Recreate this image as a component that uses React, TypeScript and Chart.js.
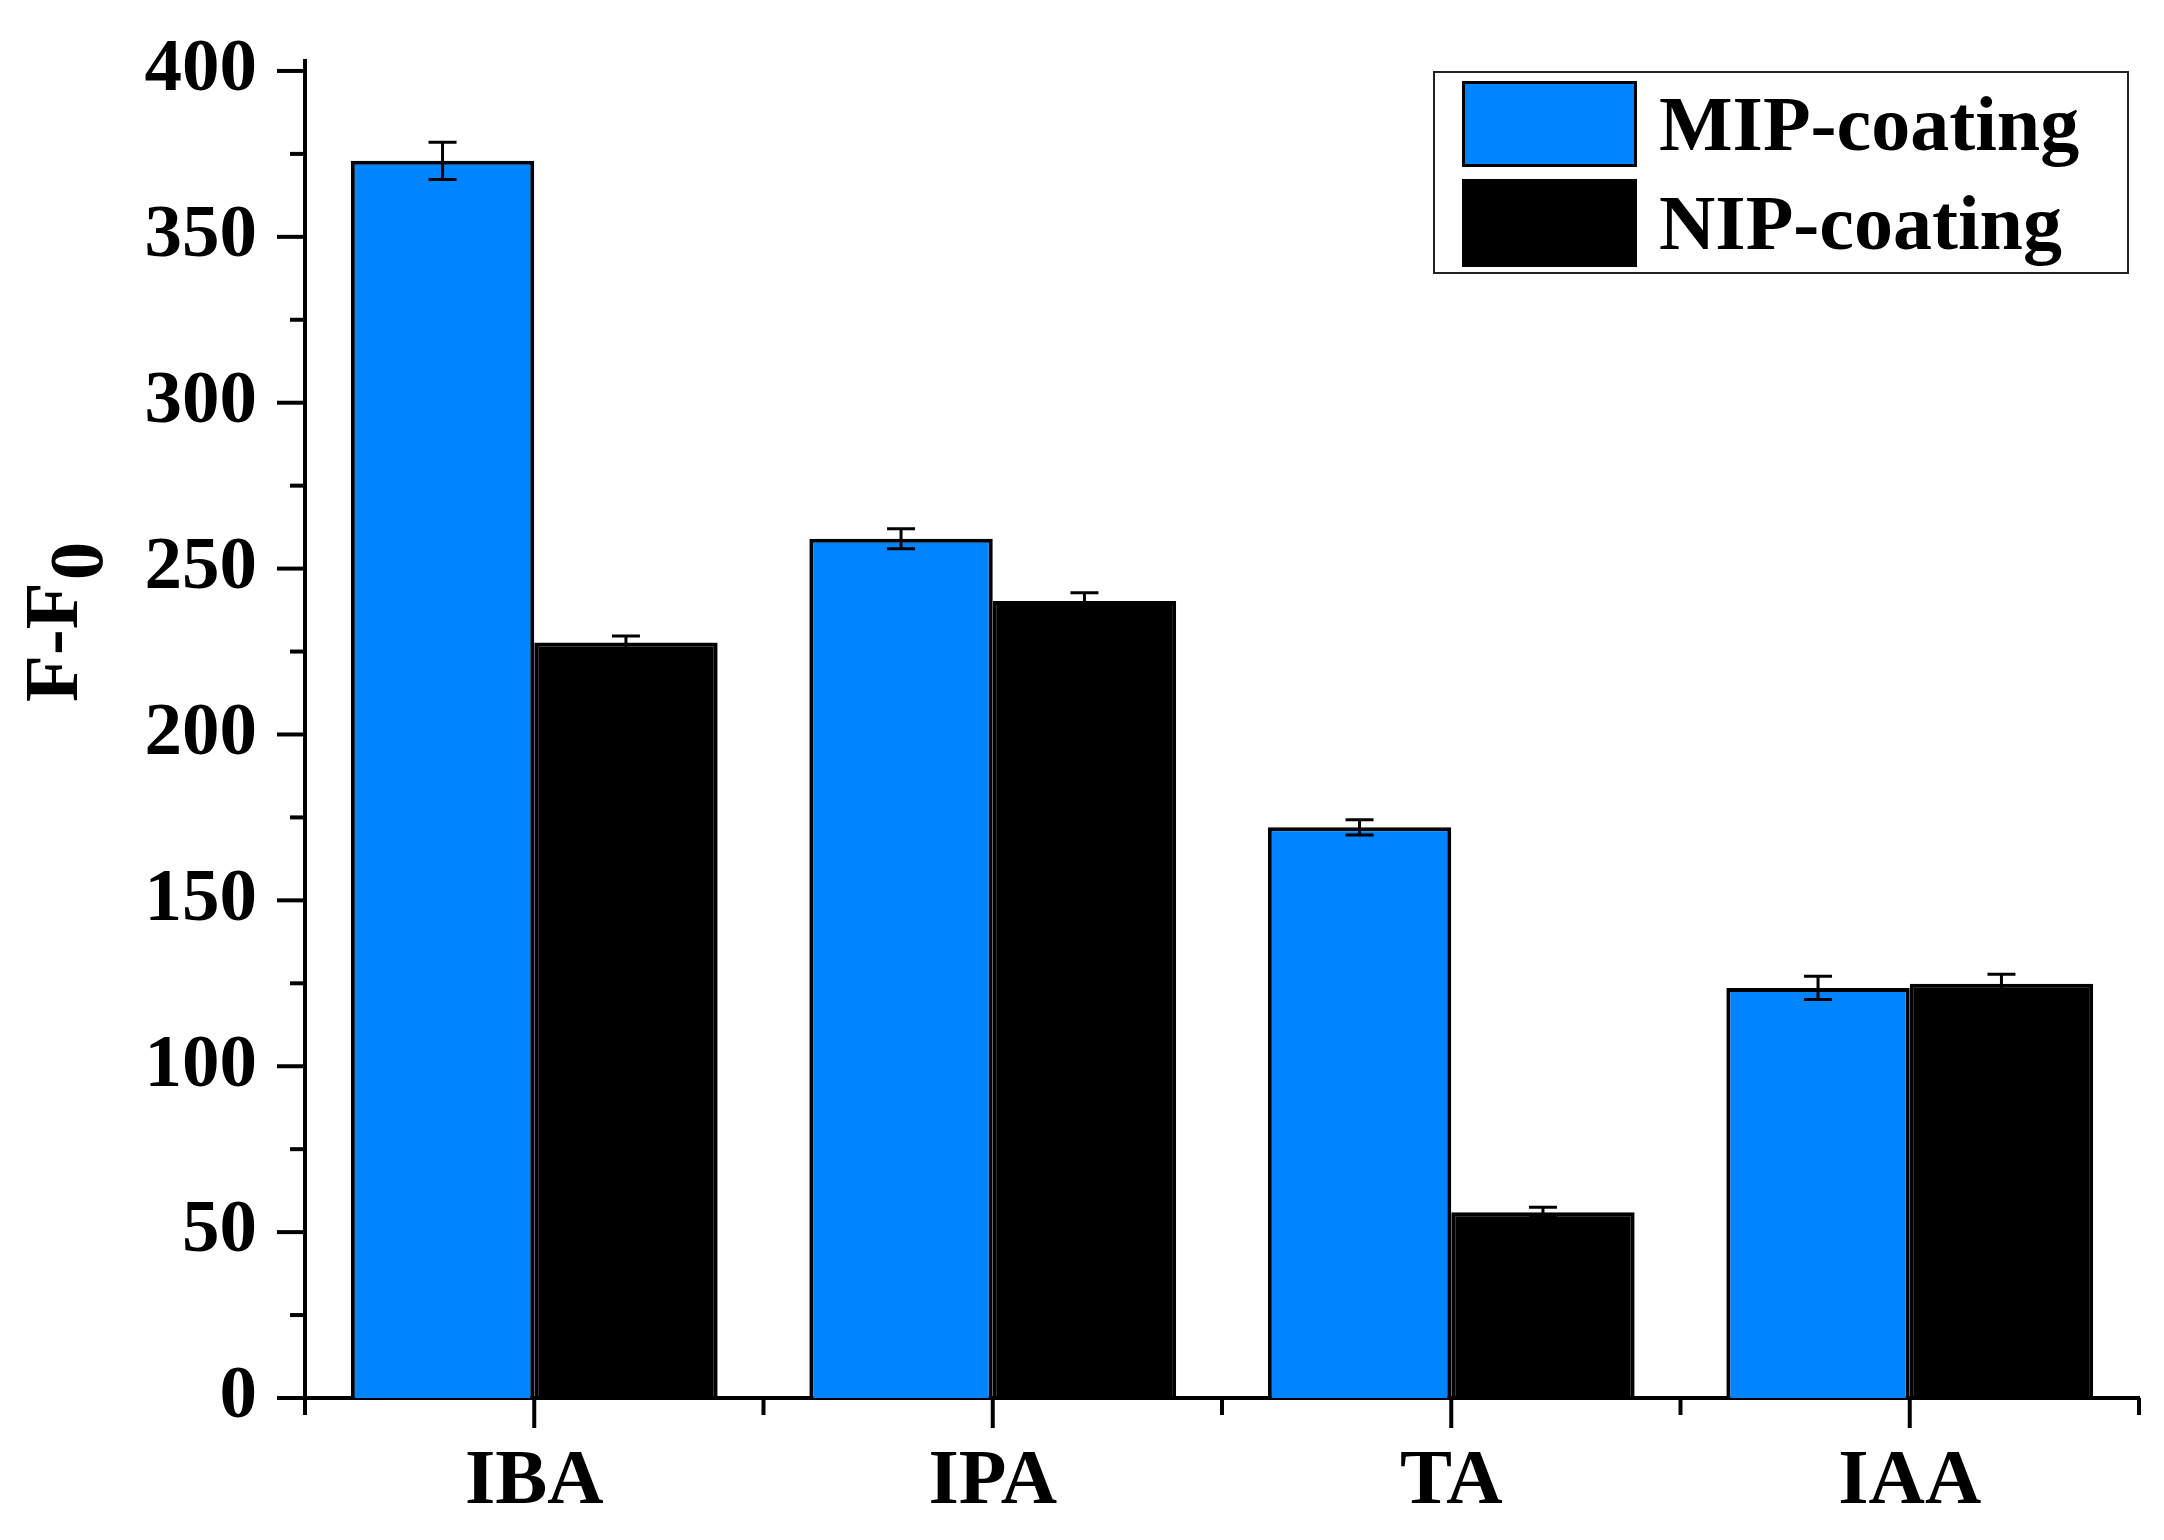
import React, { useEffect, useRef } from 'react';
import { Chart, registerables } from 'chart.js';

Chart.register(...registerables);

const categories = ['IBA', 'IPA', 'TA', 'IAA'];
const seriesNames = ['MIP-coating', 'NIP-coating'];
const seriesColors = ['#0084FF', '#000000'];
const mipValues = [372.9, 259.0, 172.0, 123.6];
const nipValues = [227.7, 240.2, 56.0, 124.9];
const mipErrors = [5.6, 3.0, 2.3, 3.5];
const nipErrors = [2.0, 2.5, 1.5, 2.8];
const yMajorTicks = [0, 50, 100, 150, 200, 250, 300, 350, 400];
const yMinorTicks = [25, 75, 125, 175, 225, 275, 325, 375];
const yTitleMain = 'F-F';
const yTitleSub = '0';

const FONT = '"Liberation Serif", "Times New Roman", serif';
const errorSets = [mipErrors, nipErrors];

const errorBarPlugin = {
  id: 'errorBars',
  afterDatasetsDraw(chart: any) {
    const ctx = chart.ctx;
    const yScale = chart.scales.y;
    ctx.save();
    ctx.strokeStyle = '#000';
    ctx.lineWidth = 3;
    chart.data.datasets.forEach((ds: any, di: number) => {
      const meta = chart.getDatasetMeta(di);
      meta.data.forEach((bar: any, i: number) => {
        const v = ds.data[i];
        const e = errorSets[di][i];
        const yTop = yScale.getPixelForValue(v + e);
        const yBot = yScale.getPixelForValue(v - e);
        const x = bar.x;
        const cap = 14;
        ctx.beginPath();
        ctx.moveTo(x, yTop);
        ctx.lineTo(x, yBot);
        ctx.moveTo(x - cap, yTop);
        ctx.lineTo(x + cap, yTop);
        ctx.moveTo(x - cap, yBot);
        ctx.lineTo(x + cap, yBot);
        ctx.stroke();
      });
    });
    ctx.restore();
  },
};

const axisDecorPlugin = {
  id: 'axisDecor',
  afterDraw(chart: any) {
    const ctx = chart.ctx;
    const xs = chart.scales.x;
    const ys = chart.scales.y;
    const area = chart.chartArea;
    ctx.save();
    ctx.strokeStyle = '#000';
    ctx.lineWidth = 4;
    ctx.lineCap = 'butt';
    yMajorTicks.forEach((v) => {
      const y = ys.getPixelForValue(v);
      ctx.beginPath();
      ctx.moveTo(area.left - 28, y);
      ctx.lineTo(area.left, y);
      ctx.stroke();
    });
    yMinorTicks.forEach((v) => {
      const y = ys.getPixelForValue(v);
      ctx.beginPath();
      ctx.moveTo(area.left - 15, y);
      ctx.lineTo(area.left, y);
      ctx.stroke();
    });
    categories.forEach((_, i) => {
      const x = xs.getPixelForValue(i);
      ctx.beginPath();
      ctx.moveTo(x, area.bottom);
      ctx.lineTo(x, area.bottom + 30);
      ctx.stroke();
    });
    for (let i = 0; i <= categories.length; i++) {
      const x = xs.getPixelForValue(i - 0.5);
      ctx.beginPath();
      ctx.moveTo(x, area.bottom);
      ctx.lineTo(x, area.bottom + 17);
      ctx.stroke();
    }
    ctx.restore();

    // y title
    ctx.save();
    ctx.fillStyle = '#000';
    ctx.font = `bold 77px ${FONT}`;
    ctx.textBaseline = 'alphabetic';
    ctx.textAlign = 'left';
    ctx.translate(77, 702);
    ctx.rotate(-Math.PI / 2);
    ctx.fillText(yTitleMain, 0, 0);
    const w = ctx.measureText(yTitleMain).width;
    ctx.fillText(yTitleSub, w + 2, 25);
    ctx.restore();

    // legend
    ctx.save();
    const bx = 1434, by = 72, bw = 694, bh = 201;
    ctx.strokeStyle = '#222';
    ctx.lineWidth = 2;
    ctx.strokeRect(bx, by, bw, bh);
    ctx.font = `bold 78px ${FONT}`;
    ctx.textBaseline = 'alphabetic';
    ctx.textAlign = 'left';
    const rows = [
      { sy: 81, sh: 86, base: 150 },
      { sy: 179, sh: 88, base: 249 },
    ];
    chart.data.datasets.forEach((ds: any, di: number) => {
      const r = rows[di];
      ctx.fillStyle = ds.backgroundColor;
      ctx.fillRect(1462, r.sy, 175, r.sh);
      ctx.strokeStyle = '#000';
      ctx.lineWidth = 3;
      ctx.strokeRect(1462 + 1.5, r.sy + 1.5, 172, r.sh - 3);
      ctx.fillStyle = '#000';
      ctx.fillText(ds.label, 1659, r.base);
    });
    ctx.restore();
  },
};

export default function App() {
  const ref = useRef<HTMLCanvasElement | null>(null);
  useEffect(() => {
    if (!ref.current) return;
    const chart = new Chart(ref.current, {
      type: 'bar',
      data: {
        labels: categories,
        datasets: [
          {
            label: seriesNames[0],
            data: mipValues,
            backgroundColor: seriesColors[0],
            borderColor: '#000',
            borderWidth: 4,
            categoryPercentage: 0.8,
            barPercentage: 1.0,
          },
          {
            label: seriesNames[1],
            data: nipValues,
            backgroundColor: seriesColors[1],
            borderColor: '#000',
            borderWidth: 4,
            categoryPercentage: 0.8,
            barPercentage: 1.0,
          },
        ],
      },
      options: {
        responsive: false,
        animation: false,
        devicePixelRatio: 1,
        layout: { padding: { top: 61, right: 25, left: 0, bottom: 0 } },
        plugins: {
          legend: { display: false },
          tooltip: { enabled: false },
        },
        scales: {
          x: {
            grid: { display: false, drawTicks: false },
            border: { display: true, color: '#000', width: 4 },
            ticks: {
              color: '#000',
              font: { family: FONT, weight: 'bold', size: 78 },
              padding: 38,
              maxRotation: 0,
            },
            afterFit: (s: any) => {
              s.height = 142;
              s.paddingLeft = 0;
              s.paddingRight = 0;
              s.paddingTop = 0;
              s.paddingBottom = 0;
            },
          },
          y: {
            min: 0,
            max: 403,
            grid: { display: false, drawTicks: false },
            border: { display: true, color: '#000', width: 4 },
            ticks: {
              color: '#000',
              font: { family: FONT, weight: 'bold', size: 75 },
              padding: 48,
            },
            afterBuildTicks: (s: any) => {
              s.ticks = yMajorTicks.map((v) => ({ value: v }));
            },
            afterFit: (s: any) => {
              s.width = 305;
              s.paddingTop = 0;
              s.paddingBottom = 0;
              s.paddingLeft = 0;
              s.paddingRight = 0;
            },
          },
        },
      },
      plugins: [errorBarPlugin, axisDecorPlugin],
    } as any);
    return () => chart.destroy();
  }, []);
  return (
    <div style={{ position: 'absolute', left: 0, top: 0, width: 2164, height: 1540, background: '#fff' }}>
      <canvas ref={ref} width={2164} height={1540} style={{ display: 'block' }} />
    </div>
  );
}
